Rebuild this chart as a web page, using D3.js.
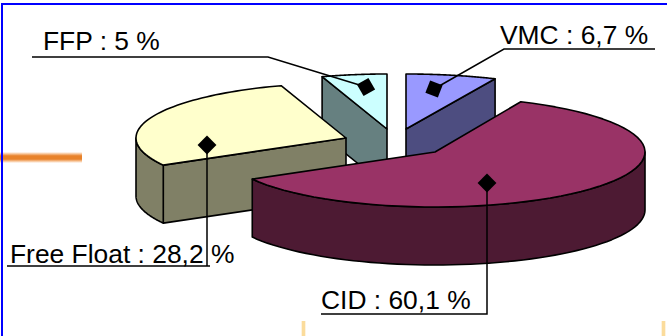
<!DOCTYPE html>
<html>
<head>
<meta charset="utf-8">
<script src="https://cdn.jsdelivr.net/npm/d3@7"></script>
<style>
  html, body { margin: 0; padding: 0; background: #fff; }
  svg { display: block; }
  text { font-family: "Liberation Sans", Arial, sans-serif; fill: #000; }
</style>
</head>
<body>
<svg id="chart" width="667" height="336"></svg>
<script>
// Shareholding split, clockwise from twelve o'clock.
const categories = ["VMC", "CID", "Free Float", "FFP"];
const shares = [6.7, 60.1, 28.2, 5];
const shareLabels = ["VMC : 6,7 %", "CID : 60,1 %", "Free Float : 28,2 %", "FFP : 5 %"];
const topColors = ["#9999ff", "#993366", "#ffffcc", "#ccffff"];
const wallColors = ["#4d4d80", "#4d1a33", "#808066", "#668080"];
// Apex and horizontal radius of each exploded wedge on the page.
const apexX = [406, 435, 346, 387];
const apexY = [129, 152, 138, 129];
const radiiX = [218, 210, 210, 210];
// Painting order, back to front.
const paintOrder = [3, 0, 2, 1];

const radiusY = 55, depth = 58;

const svg = d3.select("#chart");
const defs = svg.append("defs");
const wedges = d3.pie().sort(null).startAngle(0).endAngle(2 * Math.PI)(shares);

// Squashed-circle projection of an angle onto the tilted pie.
const project = (i, a, drop = 0) => [
  apexX[i] + radiiX[i] * Math.sin(a),
  apexY[i] - radiusY * Math.cos(a) + drop
];
const line = d3.line();
const rimPoints = (i, a0, a1, drop = 0) =>
  d3.range(0, 61).map(k => project(i, a0 + (a1 - a0) * k / 60, drop));

// Soft-edged decorative strokes behind the chart.
const softBand = (id, horizontal, stops) => {
  const g = defs.append("linearGradient").attr("id", id)
    .attr("x1", 0).attr("y1", 0)
    .attr("x2", horizontal ? 1 : 0).attr("y2", horizontal ? 0 : 1);
  stops.forEach(([o, c]) => g.append("stop").attr("offset", o).attr("stop-color", c));
};
softBand("orangeBand", false, [[0, "#ffffff"], [0.15, "#f8c9a0"], [0.35, "#e8822a"], [0.65, "#e8822a"], [0.85, "#f8c9a0"], [1, "#ffffff"]]);
softBand("paleBand", true, [[0, "#ffffff"], [0.3, "#fbdc9c"], [0.7, "#fbdc9c"], [1, "#ffffff"]]);
svg.append("rect").attr("x", 0).attr("y", 152).attr("width", 82).attr("height", 11).attr("fill", "url(#orangeBand)");
svg.append("rect").attr("x", 301).attr("y", 321).attr("width", 5).attr("height", 15).attr("fill", "url(#paleBand)");
svg.append("rect").attr("x", 661).attr("y", 321).attr("width", 5).attr("height", 15).attr("fill", "url(#paleBand)");

// Frame.
svg.append("line").attr("x1", 2).attr("y1", 3).attr("x2", 2).attr("y2", 336).attr("stroke", "#0000ff").attr("stroke-width", 2);
svg.append("line").attr("x1", 1).attr("y1", 4).attr("x2", 667).attr("y2", 4).attr("stroke", "#0000ff").attr("stroke-width", 2);

const pieLayer = svg.append("g").attr("stroke", "#000").attr("stroke-width", 1.6).attr("stroke-linejoin", "round");

paintOrder.forEach(i => {
  const { startAngle: a0, endAngle: a1 } = wedges[i];
  const g = pieLayer.append("g").attr("class", categories[i]);
  const apex = [apexX[i], apexY[i]];
  const apexLow = [apexX[i], apexY[i] + depth];

  // Cut faces turned towards the viewer.
  [a0, a1].forEach(a => {
    const isFront = (a === a0 && (i === 2 || i === 3)) || (a === a1 && i === 0);
    if (!isFront) return;
    const p = project(i, a), q = project(i, a, depth);
    g.append("path").attr("d", line([apex, p, q, apexLow]) + "Z").attr("fill", wallColors[i]);
  });

  // Outer wall: only the front half of the rim faces the viewer.
  const w0 = Math.max(a0, Math.PI / 2), w1 = Math.min(a1, 3 * Math.PI / 2);
  if (w1 > w0) {
    const upper = rimPoints(i, w0, w1);
    const lower = rimPoints(i, w0, w1, depth).reverse();
    g.append("path").attr("d", line(upper.concat(lower)) + "Z").attr("fill", wallColors[i]);
  }

  // Top surface.
  g.append("path").attr("d", line([apex].concat(rimPoints(i, a0, a1))) + "Z").attr("fill", topColors[i]);
});

// Callouts: label, leader polyline and square end marker.
const labelX = [500, 321, 10, 43];
const labelY = [44, 309, 263, 50];
const leaderX = [[655, 504, 434], [321, 487, 487], [7, 210, 207, 207], [32, 268, 366]];
const leaderY = [[49, 49, 89], [314, 314, 183], [266, 266, 266, 145], [57, 57, 87]];
const markerTilt = [21, 45, 45, 60];

const callouts = svg.append("g");
shareLabels.forEach((label, i) => {
  callouts.append("text").attr("x", labelX[i]).attr("y", labelY[i]).attr("font-size", 26.4).text(label);
  callouts.append("path")
    .attr("d", line(leaderX[i].map((x, k) => [x, leaderY[i][k]])))
    .attr("fill", "none").attr("stroke", "#000").attr("stroke-width", 1.5);
  const tip = leaderX[i].length - 1;
  callouts.append("path")
    .attr("transform", `translate(${leaderX[i][tip]},${leaderY[i][tip]}) rotate(${markerTilt[i]})`)
    .attr("d", d3.symbol(d3.symbolSquare, 178)())
    .attr("fill", "#000");
});
</script>
</body>
</html>
